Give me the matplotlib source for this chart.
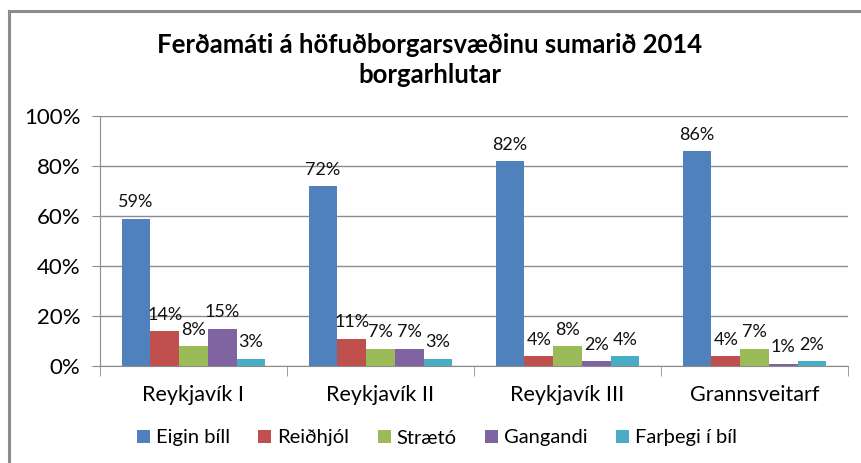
import numpy as np
import matplotlib.pyplot as plt
from matplotlib.lines import Line2D

# Gögn
TITLE = 'Ferðamáti á höfuðborgarsvæðinu sumarið 2014\nborgarhlutar'
categories = ['Reykjavík I', 'Reykjavík II', 'Reykjavík III', 'Grannsveitarf']
series_names = ['Eigin bíll', 'Reiðhjól', 'Strætó', 'Gangandi', 'Farþegi í bíl']
eigin_bill = [59, 72, 82, 86]
reidhjol = [14, 11, 4, 4]
straeto = [8, 7, 8, 7]
gangandi = [15, 7, 2, 1]
farthegi = [3, 3, 4, 2]
series_values = [eigin_bill, reidhjol, straeto, gangandi, farthegi]
colors = ['#4F81BD', '#C0504D', '#9BBB59', '#8064A2', '#4BACC6']
yticks = [0, 20, 40, 60, 80, 100]

plt.rcParams['font.family'] = ['Lato', 'DejaVu Sans']

fig = plt.figure(figsize=(8.62, 4.63), dpi=100)
ax = fig.add_axes([100 / 862, 1 - 366 / 463, 748 / 862, 250 / 463])

# Rammi utan um myndina (aðeins vinstri og efri brún sjást)
fig.add_artist(Line2D([9 / 862, 9 / 862], [0, 1 - 11 / 463], transform=fig.transFigure,
                      color='#8c8c8c', lw=2.2))
fig.add_artist(Line2D([9 / 862, 1], [1 - 11 / 463, 1 - 11 / 463], transform=fig.transFigure,
                      color='#8c8c8c', lw=2.2))

x = np.arange(len(categories))
w = 1 / 6.5
for i, (name, vals, c) in enumerate(zip(series_names, series_values, colors)):
    pos = x + (i - 2) * w
    ax.bar(pos, vals, width=w, color=c, label=name, zorder=3)
    for p, v in zip(pos, vals):
        ax.annotate(f'{v}%', (p, v), xytext=(0, 6), textcoords='offset points',
                    ha='center', va='bottom', fontsize=13, color='#111111')

ax.set_xlim(-0.5, len(categories) - 0.5)
ax.set_ylim(0, 100)
ax.set_yticks(yticks)
ax.set_yticklabels([f'{t}%' for t in yticks], fontsize=16)
ax.yaxis.grid(True, color='#8c8c8c', lw=1)
ax.set_axisbelow(True)

ax.set_xticks(x)
ax.set_xticklabels(categories, fontsize=15.5)
ax.set_xticks(np.arange(-0.5, len(categories)), minor=True)
ax.tick_params(axis='x', which='major', length=0, pad=14)
ax.tick_params(axis='x', which='minor', length=7, color='#8c8c8c', direction='out')
ax.tick_params(axis='y', length=6, color='#8c8c8c', pad=8)

for s in ['top', 'right']:
    ax.spines[s].set_visible(False)
for s in ['left', 'bottom']:
    ax.spines[s].set_color('#8c8c8c')

fig.text(430 / 862, 1 - 60 / 463, TITLE, ha='center', va='center', fontsize=18.5,
         fontweight='bold', linespacing=1.3)

fig.legend(loc='center', bbox_to_anchor=(437 / 862, 1 - 438 / 463), ncol=5, frameon=False,
           fontsize=14.5, handlelength=0.65, handleheight=0.65, handletextpad=0.3,
           columnspacing=1.4)

fig.savefig('out.png', dpi=100)
